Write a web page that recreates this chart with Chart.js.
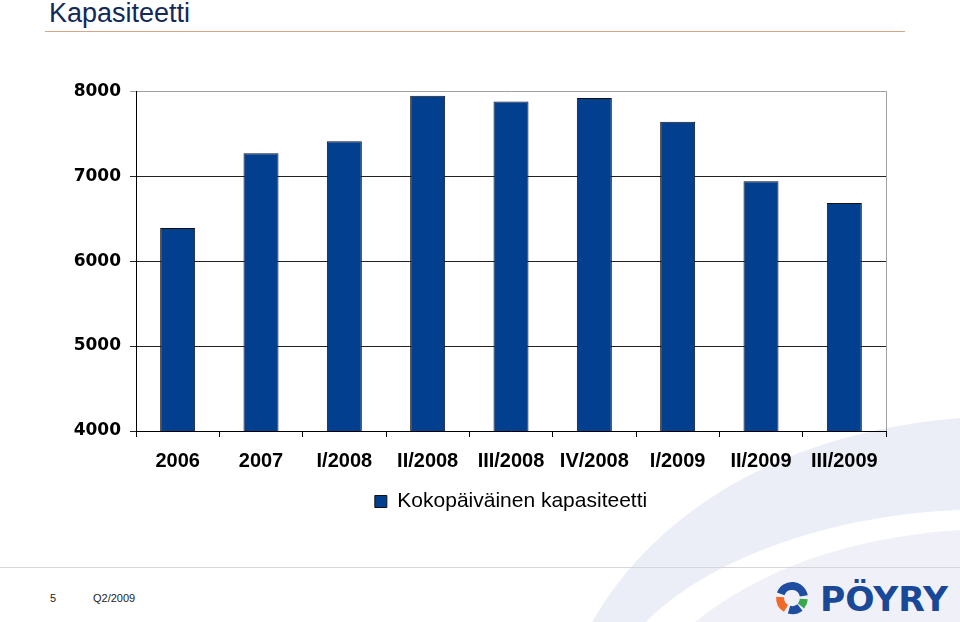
<!DOCTYPE html>
<html>
<head>
<meta charset="utf-8">
<script src="https://cdn.jsdelivr.net/npm/chart.js@4/dist/chart.umd.min.js"></script>
<style>
  html, body { margin: 0; padding: 0; background: #fff; }
  body { width: 960px; height: 622px; position: relative; overflow: hidden; font-family: "Liberation Sans", Arial, sans-serif; }
  #bg { position: absolute; left: 0; top: 0; }
  #title { position: absolute; left: 49px; top: -2px; font-size: 27px; color: #13295a; }
  #rule { position: absolute; left: 45px; top: 31px; width: 860px; height: 1px; background: #d4a888; }
  #wrap { position: absolute; left: 0; top: 72px; width: 960px; height: 450px; }
  #foot { position: absolute; left: 0; top: 567px; width: 960px; height: 1px; background: #d6d6dc; }
  .ft { position: absolute; top: 592px; font-size: 11px; color: #222; }
</style>
</head>
<body>
<svg id="bg" width="960" height="622">
  <path d="M592 622 C660 505 790 432 960 418 L960 510 C825 515 705 562 646 622 Z" fill="#eceef7"/>
  <path d="M695 622 C765 566 855 537 960 530 L960 622 Z" fill="#f0f1f8"/>
</svg>
<div id="title">Kapasiteetti</div>
<div id="rule"></div>
<div id="wrap"><canvas id="myChart" width="960" height="450"></canvas></div>
<div id="foot"></div>
<div class="ft" style="left:50px">5</div>
<div class="ft" style="left:93px">Q2/2009</div>
<svg style="position:absolute;left:770px;top:578px" width="185" height="40">
  <path d="M10.7 15.9 A12 12 0 0 1 33.8 17.9" stroke="#1f4ea0" stroke-width="8" fill="none"/>
  <path d="M10.2 19 A12 12 0 0 0 16 30.4" stroke="#f26a2a" stroke-width="8" fill="none"/>
  <path d="M33.8 21 A12 12 0 0 1 31 28" stroke="#3aa84a" stroke-width="8" fill="none"/>
  <path d="M30 29.5 A12 12 0 0 1 19 31.6" stroke="#1f4ea0" stroke-width="8" fill="none"/>
  <text x="50" y="33" font-family="DejaVu Sans, Liberation Sans" font-weight="bold" font-size="34" fill="#1a4898" textLength="128" lengthAdjust="spacingAndGlyphs">PÖYRY</text>
</svg>
<script>
var kategoriat = ['2006', '2007', 'I/2008', 'II/2008', 'III/2008', 'IV/2008', 'I/2009', 'II/2009', 'III/2009'];
var kapasiteetti = [6390, 7270, 7410, 7945, 7880, 7920, 7640, 6940, 6685];
var sarjanNimi = 'Kokopäiväinen kapasiteetti';
var yMin = 4000, yMax = 8000, yStep = 1000;

var kehys = {
    id: 'kehys',
    beforeDatasetsDraw: function(chart) {
        var a = chart.chartArea;
        var ctx = chart.ctx;
        ctx.save();
        ctx.strokeStyle = '#a0a0a0';
        ctx.lineWidth = 1;
        ctx.beginPath();
        ctx.moveTo(Math.round(a.right) + 0.5, a.top);
        ctx.lineTo(Math.round(a.right) + 0.5, a.bottom);
        ctx.stroke();
        ctx.restore();
    }
};

var ctx = document.getElementById('myChart').getContext('2d');
var wykres = new Chart(ctx, {
    type: 'bar',
    data: {
        labels: kategoriat,
        datasets: [{
            label: sarjanNimi,
            data: kapasiteetti,
            backgroundColor: '#033f8f',
            borderColor: '#111',
            borderWidth: 1,
            barPercentage: 0.42,
            categoryPercentage: 1
        }]
    },
    options: {
        responsive: false,
        animation: false,
        layout: { padding: { left: 0, right: 74, top: 3, bottom: 0 } },
        plugins: {
            tooltip: { enabled: false },
            legend: {
                position: 'bottom',
                fullSize: false,
                labels: {
                    boxWidth: 12, boxHeight: 12, padding: 10,
                    color: '#000',
                    font: { family: 'Liberation Sans', size: 21 }
                }
            }
        },
        scales: {
            x: {
                grid: { offset: true, drawOnChartArea: false, drawTicks: true, tickLength: 6, color: '#000' },
                border: { color: '#000', width: 1 },
                ticks: { color: '#000', padding: 12, maxRotation: 0, autoSkip: false,
                         font: { family: 'Liberation Sans', weight: 'bold', size: 20 } },
                afterFit: function(s) { s.height = 50; }
            },
            y: {
                min: yMin, max: yMax,
                ticks: { stepSize: yStep, color: '#000', padding: 9,
                         callback: function(v) { return String(v); },
                         font: { family: 'DejaVu Sans', weight: 'bold', size: 17 } },
                grid: {
                    tickLength: 6,
                    color: function(c) { return c.tick && c.tick.value === yMax ? '#a0a0a0' : '#222'; }
                },
                border: { color: '#000', width: 1 },
                afterFit: function(s) { s.width = 136; }
            }
        }
    },
    plugins: [kehys]
});
</script>
</body>
</html>
